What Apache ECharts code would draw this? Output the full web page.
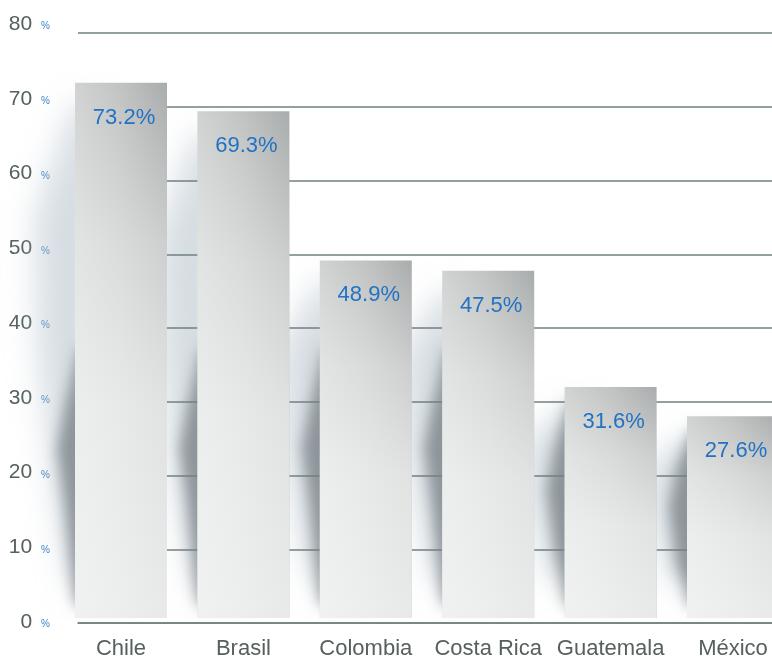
<!DOCTYPE html>
<html>
<head>
<meta charset="utf-8">
<script src="https://cdn.jsdelivr.net/npm/echarts@6/dist/echarts.min.js"></script>
<style>
  html, body { margin: 0; padding: 0; background: #ffffff; overflow: hidden; width: 772px; height: 660px; }
  #chart { width: 800px; height: 660px; }
</style>
</head>
<body>
<div id="chart"></div>
<script>
// ---- data ----
const categories = ['Chile', 'Brasil', 'Colombia', 'Costa Rica', 'Guatemala', 'México'];
const values = [73.2, 69.3, 48.9, 47.5, 31.6, 27.6];
const yMin = 0;
const yMax = 80;
const yStep = 10;

// ---- style ----
const BAR_W = 92;
const FONT = 'Liberation Sans, Arial, Helvetica, sans-serif';
const GRID_COLOR = '#71807e';
const TEXT_COLOR = '#55605f';
const BLUE = '#2272c3';

function renderShadow(params, api) {
  const top = api.coord([api.value(0), api.value(1)]);
  const bot = api.coord([api.value(0), 0]);
  const L = top[0] - BAR_W / 2;
  const T = top[1], B = bot[1], h = B - T;
  const cy = Math.max(T + 0.4 * h, B - 180);
  const ds = Math.max(cy - 90, T + 15);
  return {
    type: 'group',
    children: [
      {
        type: 'polygon',
        shape: { points: [[L + 58, T + 22], [L + 20, T + 0.25 * h], [L + 23, T + 0.5 * h], [L + 42, T + 0.8 * h], [L + 58, B - 30], [L + 88, B - 30], [L + 88, T + 22]] },
        style: { fill: '#000', shadowBlur: 30, shadowColor: 'rgba(175,190,199,0.5)', shadowOffsetX: -60 }
      },
      {
        type: 'polygon',
        shape: { points: [[L + 34, ds], [L + 20, cy - 30], [L + 12, cy + 10], [L + 20, cy + 70], [L + 28, B - 30], [L + 31, B - 12], [L + 70, B - 12], [L + 70, ds]] },
        style: { fill: '#000', shadowBlur: 14, shadowColor: 'rgba(95,104,110,0.62)', shadowOffsetX: -30 }
      }
    ]
  };
}

const chart = echarts.init(document.getElementById('chart'), null, { renderer: 'canvas' });

chart.setOption({
  animation: false,
  backgroundColor: '#ffffff',
  grid: [
    { left: 59.8, right: 5.8, top: 33, bottom: 37 },
    { left: 78, right: 28, top: 33, bottom: 37 },
    { left: 60, right: 28, top: 24, bottom: 38 }
  ],
  xAxis: [
    {
      type: 'category', gridIndex: 0, data: categories,
      axisLine: { show: false }, axisTick: { show: false },
      axisLabel: { interval: 0, margin: 20, fontSize: 22, color: TEXT_COLOR, fontFamily: FONT }
    },
    {
      type: 'value', gridIndex: 1, z: 5,
      axisLabel: { show: false }, axisTick: { show: false }, splitLine: { show: false },
      axisLine: { show: true, lineStyle: { color: GRID_COLOR, width: 1.5 } }
    },
    {
      type: 'value', gridIndex: 2, show: false
    }
  ],
  yAxis: [
    {
      type: 'value', gridIndex: 0, min: yMin, max: yMax, interval: yStep,
      axisLabel: { show: false }, axisLine: { show: false }, axisTick: { show: false }, splitLine: { show: false }
    },
    {
      type: 'value', gridIndex: 1, min: yMin, max: yMax, interval: yStep, z: 2,
      axisLabel: { show: false }, axisLine: { show: false }, axisTick: { show: false },
      splitLine: { show: true, lineStyle: { color: GRID_COLOR, width: 1.5 } }
    },
    {
      type: 'value', gridIndex: 2, min: yMin, max: yMax, interval: yStep,
      axisLine: { show: false }, axisTick: { show: false }, splitLine: { show: false },
      axisLabel: {
        margin: 10,
        formatter: v => '{n|' + v + '}{p|%}',
        rich: {
          n: { fontSize: 21, color: TEXT_COLOR, fontFamily: FONT },
          p: { fontSize: 10, color: '#3d82c8', fontFamily: FONT, padding: [5, 0, 0, 9] }
        }
      }
    }
  ],
  series: [
    {
      type: 'custom', xAxisIndex: 0, yAxisIndex: 0, z: 1, clip: false, silent: true,
      renderItem: renderShadow,
      data: values.map((v, i) => [i, v])
    },
    {
      type: 'bar', xAxisIndex: 0, yAxisIndex: 0, z: 3, barWidth: BAR_W, barGap: '-100%',
      data: values,
      itemStyle: {
        color: {
          type: 'linear', x: 0, y: 0, x2: 1, y2: 0,
          colorStops: [
            { offset: 0, color: '#d1d3d2' },
            { offset: 0.5, color: '#c0c3c2' },
            { offset: 1, color: '#a9acac' }
          ]
        }
      }
    },
    {
      type: 'bar', xAxisIndex: 0, yAxisIndex: 0, z: 4, barWidth: BAR_W, barGap: '-100%',
      data: values,
      itemStyle: {
        color: {
          type: 'linear', x: 0, y: 0, x2: 0, y2: 1,
          colorStops: [
            { offset: 0, color: 'rgba(248,249,249,0)' },
            { offset: 0.3, color: 'rgba(248,249,249,0.45)' },
            { offset: 0.6, color: 'rgba(248,249,249,0.7)' },
            { offset: 1, color: 'rgba(248,249,249,0.8)' }
          ]
        }
      },
      label: {
        show: true, position: 'insideTop', distance: 24, offset: [3, 0],
        color: BLUE, fontSize: 22, fontFamily: FONT,
        formatter: p => p.value.toFixed(1) + '%'
      }
    }
  ]
});
</script>
</body>
</html>
